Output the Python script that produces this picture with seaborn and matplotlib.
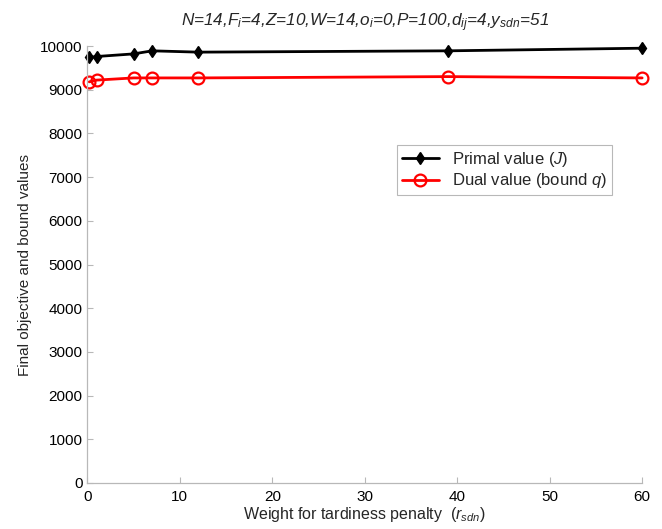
import pandas as pd
import seaborn as sns
import matplotlib.pyplot as plt

# weight values and final objective / bound values
weights = [0.2, 1, 5, 7, 12, 39, 60]
primal = [9740, 9760, 9820, 9890, 9860, 9890, 9950]
dual = [9180, 9220, 9270, 9270, 9270, 9300, 9270]

df = pd.DataFrame({'weight': weights, 'primal': primal, 'dual': dual})

sns.set_style('white')
plt.rcParams['font.family'] = ['Liberation Sans', 'DejaVu Sans']
plt.rcParams['mathtext.fontset'] = 'custom'
plt.rcParams['mathtext.rm'] = 'Liberation Sans'
plt.rcParams['mathtext.it'] = 'Liberation Sans:italic'

fig = plt.figure(figsize=(6.62, 5.29), dpi=100)
ax = fig.add_axes([0.132, 0.087, 0.838, 0.826])

sns.lineplot(data=df, x='weight', y='primal', ax=ax, color='black', lw=2,
             marker='d', markersize=6, markeredgecolor='black',
             markeredgewidth=1, label='Primal value ($J$)', clip_on=False)
sns.lineplot(data=df, x='weight', y='dual', ax=ax, color='red', lw=2,
             marker='o', markersize=8.5, markerfacecolor='none',
             markeredgecolor='red', markeredgewidth=1.6,
             label='Dual value (bound $q$)', clip_on=False)

ax.set_xlim(0, 60)
ax.set_ylim(0, 10000)
ax.set_xticks(range(0, 61, 10))
ax.set_yticks(range(0, 10001, 1000))

for side in ['top', 'right']:
    ax.spines[side].set_visible(False)
for side in ['left', 'bottom']:
    ax.spines[side].set_color('#b8b8b8')
    ax.spines[side].set_linewidth(0.9)
ax.tick_params(direction='in', length=4, color='#b8b8b8', labelsize=11,
               labelcolor='black', left=True, bottom=True)
ax.tick_params(axis='x', pad=5)

ax.set_title('N=14,F$_i$=4,Z=10,W=14,o$_i$=0,P=100,d$_{ij}$=4,y$_{sdn}$=51',
             fontsize=12.3, fontstyle='italic', pad=14)
ax.set_xlabel(r'Weight for tardiness penalty  ($r_{sdn}$)', fontsize=11.5, labelpad=1)
ax.set_ylabel('Final objective and bound values', fontsize=11, labelpad=6)

leg = ax.legend(loc='upper left', bbox_to_anchor=(0.558, 0.7735), fontsize=12,
                frameon=True, fancybox=False, edgecolor='#b8b8b8',
                framealpha=1, handlelength=2.2, borderpad=0.3,
                labelspacing=0.15, borderaxespad=0)
leg.get_frame().set_linewidth(0.8)

plt.savefig('out.png', dpi=100)
plt.close()
